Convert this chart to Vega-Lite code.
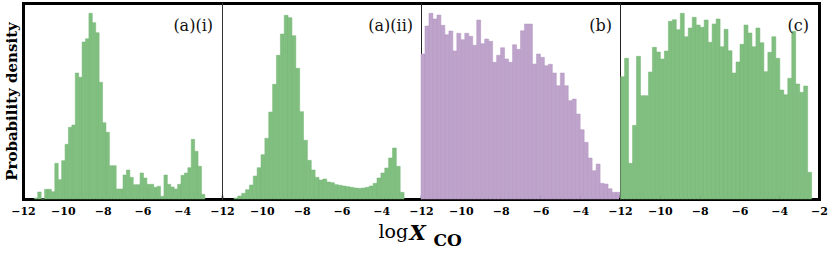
{
  "$schema": "https://vega.github.io/schema/vega-lite/v6.json",
  "background": "white",
  "padding": {"left": 4, "top": 3, "right": 0, "bottom": 0},
  "spacing": 0,
  "bounds": "flush",
  "datasets": {
    "a1": [
      {"x0": -11.430, "x1": -11.259, "density": 1},
      {"x0": -11.259, "x1": -11.087, "density": 7},
      {"x0": -11.087, "x1": -10.916, "density": 0},
      {"x0": -10.916, "x1": -10.744, "density": 9.7},
      {"x0": -10.744, "x1": -10.573, "density": 9.7},
      {"x0": -10.573, "x1": -10.402, "density": 7.3},
      {"x0": -10.402, "x1": -10.230, "density": 35.7},
      {"x0": -10.230, "x1": -10.059, "density": 19.3},
      {"x0": -10.059, "x1": -9.887, "density": 38.3},
      {"x0": -9.887, "x1": -9.716, "density": 54.7},
      {"x0": -9.716, "x1": -9.545, "density": 71.7},
      {"x0": -9.545, "x1": -9.373, "density": 74},
      {"x0": -9.373, "x1": -9.202, "density": 126},
      {"x0": -9.202, "x1": -9.030, "density": 121.7},
      {"x0": -9.030, "x1": -8.859, "density": 157},
      {"x0": -8.859, "x1": -8.688, "density": 160.3},
      {"x0": -8.688, "x1": -8.516, "density": 185.7},
      {"x0": -8.516, "x1": -8.345, "density": 176.3},
      {"x0": -8.345, "x1": -8.173, "density": 166.3},
      {"x0": -8.173, "x1": -8.002, "density": 116.7},
      {"x0": -8.002, "x1": -7.831, "density": 76.3},
      {"x0": -7.831, "x1": -7.659, "density": 66.7},
      {"x0": -7.659, "x1": -7.488, "density": 33.3},
      {"x0": -7.488, "x1": -7.316, "density": 33.3},
      {"x0": -7.316, "x1": -7.145, "density": 10},
      {"x0": -7.145, "x1": -6.974, "density": 10},
      {"x0": -6.974, "x1": -6.802, "density": 24},
      {"x0": -6.802, "x1": -6.631, "density": 29},
      {"x0": -6.631, "x1": -6.459, "density": 21.7},
      {"x0": -6.459, "x1": -6.288, "density": 14.3},
      {"x0": -6.288, "x1": -6.117, "density": 14.3},
      {"x0": -6.117, "x1": -5.945, "density": 26},
      {"x0": -5.945, "x1": -5.774, "density": 21},
      {"x0": -5.774, "x1": -5.602, "density": 14.7},
      {"x0": -5.602, "x1": -5.431, "density": 14.7},
      {"x0": -5.431, "x1": -5.260, "density": 11.7},
      {"x0": -5.260, "x1": -5.088, "density": 12.7},
      {"x0": -5.088, "x1": -4.917, "density": 2.7},
      {"x0": -4.917, "x1": -4.745, "density": 24},
      {"x0": -4.745, "x1": -4.574, "density": 14.7},
      {"x0": -4.574, "x1": -4.403, "density": 12},
      {"x0": -4.403, "x1": -4.231, "density": 10},
      {"x0": -4.231, "x1": -4.060, "density": 14.7},
      {"x0": -4.060, "x1": -3.888, "density": 23.7},
      {"x0": -3.888, "x1": -3.717, "density": 26},
      {"x0": -3.717, "x1": -3.546, "density": 31.3},
      {"x0": -3.546, "x1": -3.374, "density": 59.7},
      {"x0": -3.374, "x1": -3.203, "density": 47.7},
      {"x0": -3.203, "x1": -3.031, "density": 32.7},
      {"x0": -3.031, "x1": -2.860, "density": 4.7}
    ],
    "a2": [
      {"x0": -11.400, "x1": -11.206, "density": 1},
      {"x0": -11.206, "x1": -11.011, "density": 3},
      {"x0": -11.011, "x1": -10.817, "density": 5.7},
      {"x0": -10.817, "x1": -10.623, "density": 9.3},
      {"x0": -10.623, "x1": -10.429, "density": 14},
      {"x0": -10.429, "x1": -10.234, "density": 23},
      {"x0": -10.234, "x1": -10.040, "density": 31.3},
      {"x0": -10.040, "x1": -9.846, "density": 44.3},
      {"x0": -9.846, "x1": -9.651, "density": 60.7},
      {"x0": -9.651, "x1": -9.457, "density": 87},
      {"x0": -9.457, "x1": -9.263, "density": 114.7},
      {"x0": -9.263, "x1": -9.068, "density": 143.7},
      {"x0": -9.068, "x1": -8.874, "density": 165},
      {"x0": -8.874, "x1": -8.680, "density": 183.7},
      {"x0": -8.680, "x1": -8.486, "density": 181.3},
      {"x0": -8.486, "x1": -8.291, "density": 163.3},
      {"x0": -8.291, "x1": -8.097, "density": 130.7},
      {"x0": -8.097, "x1": -7.903, "density": 87.3},
      {"x0": -7.903, "x1": -7.708, "density": 58.7},
      {"x0": -7.708, "x1": -7.514, "density": 38.7},
      {"x0": -7.514, "x1": -7.320, "density": 29},
      {"x0": -7.320, "x1": -7.125, "density": 21.7},
      {"x0": -7.125, "x1": -6.931, "density": 19},
      {"x0": -6.931, "x1": -6.737, "density": 20},
      {"x0": -6.737, "x1": -6.543, "density": 17},
      {"x0": -6.543, "x1": -6.348, "density": 16.3},
      {"x0": -6.348, "x1": -6.154, "density": 14.3},
      {"x0": -6.154, "x1": -5.960, "density": 13.7},
      {"x0": -5.960, "x1": -5.765, "density": 13},
      {"x0": -5.765, "x1": -5.571, "density": 12.3},
      {"x0": -5.571, "x1": -5.377, "density": 11.7},
      {"x0": -5.377, "x1": -5.182, "density": 11},
      {"x0": -5.182, "x1": -4.988, "density": 10.7},
      {"x0": -4.988, "x1": -4.794, "density": 11},
      {"x0": -4.794, "x1": -4.600, "density": 11.7},
      {"x0": -4.600, "x1": -4.405, "density": 13},
      {"x0": -4.405, "x1": -4.211, "density": 15.7},
      {"x0": -4.211, "x1": -4.017, "density": 21},
      {"x0": -4.017, "x1": -3.822, "density": 26},
      {"x0": -3.822, "x1": -3.628, "density": 31},
      {"x0": -3.628, "x1": -3.434, "density": 41},
      {"x0": -3.434, "x1": -3.239, "density": 51},
      {"x0": -3.239, "x1": -3.045, "density": 32.7},
      {"x0": -3.045, "x1": -2.851, "density": 6.7}
    ],
    "b": [
      {"x0": -12.0, "x1": -11.8, "density": 145},
      {"x0": -11.8, "x1": -11.6, "density": 173},
      {"x0": -11.6, "x1": -11.4, "density": 185.7},
      {"x0": -11.4, "x1": -11.2, "density": 180},
      {"x0": -11.2, "x1": -11.0, "density": 184},
      {"x0": -11.0, "x1": -10.8, "density": 173.7},
      {"x0": -10.8, "x1": -10.6, "density": 164.3},
      {"x0": -10.6, "x1": -10.4, "density": 168},
      {"x0": -10.4, "x1": -10.2, "density": 148},
      {"x0": -10.2, "x1": -10.0, "density": 165.7},
      {"x0": -10.0, "x1": -9.8, "density": 159.3},
      {"x0": -9.8, "x1": -9.6, "density": 165.7},
      {"x0": -9.6, "x1": -9.4, "density": 162.7},
      {"x0": -9.4, "x1": -9.2, "density": 153.7},
      {"x0": -9.2, "x1": -9.0, "density": 179},
      {"x0": -9.0, "x1": -8.8, "density": 155.3},
      {"x0": -8.8, "x1": -8.6, "density": 160},
      {"x0": -8.6, "x1": -8.4, "density": 157.7},
      {"x0": -8.4, "x1": -8.2, "density": 136.7},
      {"x0": -8.2, "x1": -8.0, "density": 143.7},
      {"x0": -8.0, "x1": -7.8, "density": 151.3},
      {"x0": -7.8, "x1": -7.6, "density": 140},
      {"x0": -7.6, "x1": -7.4, "density": 136.7},
      {"x0": -7.4, "x1": -7.2, "density": 154.3},
      {"x0": -7.2, "x1": -7.0, "density": 149.7},
      {"x0": -7.0, "x1": -6.8, "density": 168.3},
      {"x0": -6.8, "x1": -6.6, "density": 175},
      {"x0": -6.6, "x1": -6.4, "density": 175},
      {"x0": -6.4, "x1": -6.2, "density": 135},
      {"x0": -6.2, "x1": -6.0, "density": 145},
      {"x0": -6.0, "x1": -5.8, "density": 141.7},
      {"x0": -5.8, "x1": -5.6, "density": 133.3},
      {"x0": -5.6, "x1": -5.4, "density": 134.7},
      {"x0": -5.4, "x1": -5.2, "density": 126},
      {"x0": -5.2, "x1": -5.0, "density": 113.3},
      {"x0": -5.0, "x1": -4.8, "density": 126},
      {"x0": -4.8, "x1": -4.6, "density": 113.3},
      {"x0": -4.6, "x1": -4.4, "density": 98.3},
      {"x0": -4.4, "x1": -4.2, "density": 100},
      {"x0": -4.2, "x1": -4.0, "density": 85},
      {"x0": -4.0, "x1": -3.8, "density": 69.3},
      {"x0": -3.8, "x1": -3.6, "density": 56.7},
      {"x0": -3.6, "x1": -3.4, "density": 41},
      {"x0": -3.4, "x1": -3.2, "density": 28.3},
      {"x0": -3.2, "x1": -3.0, "density": 35},
      {"x0": -3.0, "x1": -2.8, "density": 15.7},
      {"x0": -2.8, "x1": -2.6, "density": 15},
      {"x0": -2.6, "x1": -2.4, "density": 10.3},
      {"x0": -2.4, "x1": -2.2, "density": 6.7},
      {"x0": -2.2, "x1": -2.0, "density": 6.7}
    ],
    "c": [
      {"x0": -11.97, "x1": -11.77, "density": 122.3},
      {"x0": -11.77, "x1": -11.57, "density": 140.7},
      {"x0": -11.57, "x1": -11.37, "density": 35.7},
      {"x0": -11.37, "x1": -11.17, "density": 73.7},
      {"x0": -11.17, "x1": -10.97, "density": 142.7},
      {"x0": -10.97, "x1": -10.77, "density": 103.3},
      {"x0": -10.77, "x1": -10.57, "density": 103.3},
      {"x0": -10.57, "x1": -10.37, "density": 127},
      {"x0": -10.37, "x1": -10.17, "density": 151.7},
      {"x0": -10.17, "x1": -9.97, "density": 147},
      {"x0": -9.97, "x1": -9.77, "density": 140},
      {"x0": -9.77, "x1": -9.57, "density": 148},
      {"x0": -9.57, "x1": -9.37, "density": 177.7},
      {"x0": -9.37, "x1": -9.17, "density": 179.3},
      {"x0": -9.17, "x1": -8.97, "density": 169.3},
      {"x0": -8.97, "x1": -8.77, "density": 185.7},
      {"x0": -8.77, "x1": -8.57, "density": 162.3},
      {"x0": -8.57, "x1": -8.37, "density": 171},
      {"x0": -8.37, "x1": -8.17, "density": 181.7},
      {"x0": -8.17, "x1": -7.97, "density": 174},
      {"x0": -7.97, "x1": -7.77, "density": 171.7},
      {"x0": -7.77, "x1": -7.57, "density": 179},
      {"x0": -7.57, "x1": -7.37, "density": 156.7},
      {"x0": -7.37, "x1": -7.17, "density": 175},
      {"x0": -7.17, "x1": -6.97, "density": 180},
      {"x0": -6.97, "x1": -6.77, "density": 152.3},
      {"x0": -6.77, "x1": -6.57, "density": 169.7},
      {"x0": -6.57, "x1": -6.37, "density": 148.3},
      {"x0": -6.37, "x1": -6.17, "density": 126},
      {"x0": -6.17, "x1": -5.97, "density": 137},
      {"x0": -5.97, "x1": -5.77, "density": 154.7},
      {"x0": -5.77, "x1": -5.57, "density": 174},
      {"x0": -5.57, "x1": -5.37, "density": 166},
      {"x0": -5.37, "x1": -5.17, "density": 152.3},
      {"x0": -5.17, "x1": -4.97, "density": 171},
      {"x0": -4.97, "x1": -4.77, "density": 156.3},
      {"x0": -4.77, "x1": -4.57, "density": 127.3},
      {"x0": -4.57, "x1": -4.37, "density": 146.7},
      {"x0": -4.37, "x1": -4.17, "density": 162.3},
      {"x0": -4.17, "x1": -3.97, "density": 140.7},
      {"x0": -3.97, "x1": -3.77, "density": 109},
      {"x0": -3.77, "x1": -3.57, "density": 104.3},
      {"x0": -3.57, "x1": -3.37, "density": 120.7},
      {"x0": -3.37, "x1": -3.17, "density": 167.7},
      {"x0": -3.17, "x1": -2.97, "density": 115},
      {"x0": -2.97, "x1": -2.77, "density": 106.7},
      {"x0": -2.77, "x1": -2.57, "density": 113},
      {"x0": -2.57, "x1": -2.37, "density": 26.7}
    ]
  },
  "hconcat": [
    {
      "width": 199, "height": 196,
      "layer": [
        {
          "data": {"name": "a1"},
          "mark": {"type": "rect", "fill": "#80bf80", "stroke": "#74b674", "strokeWidth": 0.5},
          "encoding": {
            "x": {"field": "x0", "type": "quantitative", "scale": {"domain": [-12, -2], "nice": false, "zero": false},
                  "axis": {"orient": "bottom", "values": [-12, -10, -8, -6, -4], "domainWidth": 3, "tickSize": -4, "tickWidth": 1.5, "labelPadding": 10, "title": null}},
            "x2": {"field": "x1"},
            "y": {"field": "density", "type": "quantitative", "scale": {"domain": [0, 196], "nice": false},
                  "axis": {"orient": "left", "domainWidth": 3, "labels": false, "ticks": false, "title": "Probability density", "titleFont": "DejaVu Serif", "titleFontWeight": "bold", "titleFontSize": 15, "titlePadding": 4, "titleColor": "#000"}},
            "y2": {"datum": 0}
          }
        },
        {
          "data": {"values": [{"label": "(a)(i)"}]},
          "mark": {"type": "text", "align": "right", "baseline": "alphabetic", "dx": -9, "dy": 28, "fontSize": 16, "font": "DejaVu Serif", "color": "#111"},
          "encoding": {
            "text": {"field": "label"},
            "x": {"datum": -2, "type": "quantitative", "axis": {"orient": "top", "labels": false, "ticks": false, "domainWidth": 3, "title": null}},
            "y": {"datum": 196, "type": "quantitative", "axis": null}
          }
        }
      ],
      "resolve": {"axis": {"x": "independent", "y": "independent"}}
    },
    {
      "width": 199, "height": 196,
      "layer": [
        {
          "data": {"name": "a2"},
          "mark": {"type": "rect", "fill": "#80bf80", "stroke": "#74b674", "strokeWidth": 0.5},
          "encoding": {
            "x": {"field": "x0", "type": "quantitative", "scale": {"domain": [-12, -2], "nice": false, "zero": false},
                  "axis": {"orient": "bottom", "values": [-12, -10, -8, -6, -4], "domainWidth": 3, "tickSize": -4, "tickWidth": 1.5, "labelPadding": 10,
                           "title": "log", "titleFont": "DejaVu Serif", "titleFontWeight": "normal", "titleFontSize": 19, "titleColor": "#000", "titleAlign": "left", "titleBaseline": "alphabetic", "titleX": 156, "titleY": 38}},
            "x2": {"field": "x1"},
            "y": {"field": "density", "type": "quantitative", "scale": {"domain": [0, 196], "nice": false},
                  "axis": {"orient": "left", "domainWidth": 1, "domainColor": "#333", "labels": false, "ticks": false, "title": null}},
            "y2": {"datum": 0}
          }
        },
        {
          "data": {"values": [{"label": "(a)(ii)"}]},
          "mark": {"type": "text", "align": "right", "baseline": "alphabetic", "dx": -8, "dy": 28, "fontSize": 16, "font": "DejaVu Serif", "color": "#111"},
          "encoding": {
            "text": {"field": "label"},
            "x": {"datum": -2, "type": "quantitative", "axis": {"orient": "top", "labels": false, "ticks": false, "domainWidth": 3, "title": null}},
            "y": {"datum": 196, "type": "quantitative", "axis": null}
          }
        }
      ],
      "resolve": {"axis": {"x": "independent", "y": "independent"}}
    },
    {
      "width": 199, "height": 196,
      "layer": [
        {
          "data": {"name": "b"},
          "mark": {"type": "rect", "fill": "#bea3cb", "stroke": "#b497c3", "strokeWidth": 0.5},
          "encoding": {
            "x": {"field": "x0", "type": "quantitative", "scale": {"domain": [-12, -2], "nice": false, "zero": false},
                  "axis": {"orient": "bottom", "values": [-12, -10, -8, -6, -4], "domainWidth": 3, "tickSize": -4, "tickWidth": 1.5, "labelPadding": 10,
                           "title": "X", "titleFont": "DejaVu Serif", "titleFontWeight": "bold", "titleFontStyle": "italic", "titleFontSize": 21, "titleColor": "#000", "titleAlign": "left", "titleBaseline": "alphabetic", "titleX": -12, "titleY": 40}},
            "x2": {"field": "x1"},
            "y": {"field": "density", "type": "quantitative", "scale": {"domain": [0, 196], "nice": false},
                  "axis": {"orient": "left", "domainWidth": 1, "domainColor": "#222", "labels": false, "ticks": false, "title": null}},
            "y2": {"datum": 0}
          }
        },
        {
          "data": {"values": [{"label": "(b)"}]},
          "mark": {"type": "text", "align": "right", "baseline": "alphabetic", "dx": -8, "dy": 28, "fontSize": 16, "font": "DejaVu Serif", "color": "#111"},
          "encoding": {
            "text": {"field": "label"},
            "x": {"datum": -2, "type": "quantitative", "axis": {"orient": "top", "labels": false, "ticks": false, "domainWidth": 3, "title": null}},
            "y": {"datum": 196, "type": "quantitative", "axis": null}
          }
        }
      ],
      "resolve": {"axis": {"x": "independent", "y": "independent"}}
    },
    {
      "width": 199, "height": 196,
      "layer": [
        {
          "data": {"name": "c"},
          "mark": {"type": "rect", "fill": "#80bf80", "stroke": "#74b674", "strokeWidth": 0.5},
          "encoding": {
            "x": {"field": "x0", "type": "quantitative", "scale": {"domain": [-12, -2], "nice": false, "zero": false},
                  "axis": {"orient": "bottom", "values": [-12, -10, -8, -6, -4, -2], "domainWidth": 3, "tickSize": -4, "tickWidth": 1.5, "labelPadding": 10,
                           "title": "CO", "titleFont": "DejaVu Serif", "titleFontWeight": "bold", "titleFontSize": 17, "titleColor": "#000", "titleAlign": "left", "titleBaseline": "alphabetic", "titleX": -187, "titleY": 46}},
            "x2": {"field": "x1"},
            "y": {"field": "density", "type": "quantitative", "scale": {"domain": [0, 196], "nice": false},
                  "axis": {"orient": "left", "domainWidth": 1, "domainColor": "#222", "labels": false, "ticks": false, "title": null}},
            "y2": {"datum": 0}
          }
        },
        {
          "data": {"values": [{"label": "(c)"}]},
          "mark": {"type": "text", "align": "right", "baseline": "alphabetic", "dx": -10, "dy": 28, "fontSize": 16, "font": "DejaVu Serif", "color": "#111"},
          "encoding": {
            "text": {"field": "label"},
            "x": {"datum": -2, "type": "quantitative", "axis": {"orient": "top", "labels": false, "ticks": false, "domainWidth": 3, "title": null}},
            "y": {"datum": 196, "type": "quantitative", "axis": {"orient": "right", "labels": false, "ticks": false, "domainWidth": 3, "title": null}}
          }
        }
      ],
      "resolve": {"axis": {"x": "independent", "y": "independent"}}
    }
  ],
  "config": {
    "view": {"stroke": null},
    "axis": {"zindex": 1, "grid": false, "labelFont": "DejaVu Serif", "labelFontWeight": "bold", "labelFontSize": 11, "labelColor": "#000", "domainColor": "#000", "tickColor": "#000", "labelFlush": false, "domainCap": "square"}
  }
}
